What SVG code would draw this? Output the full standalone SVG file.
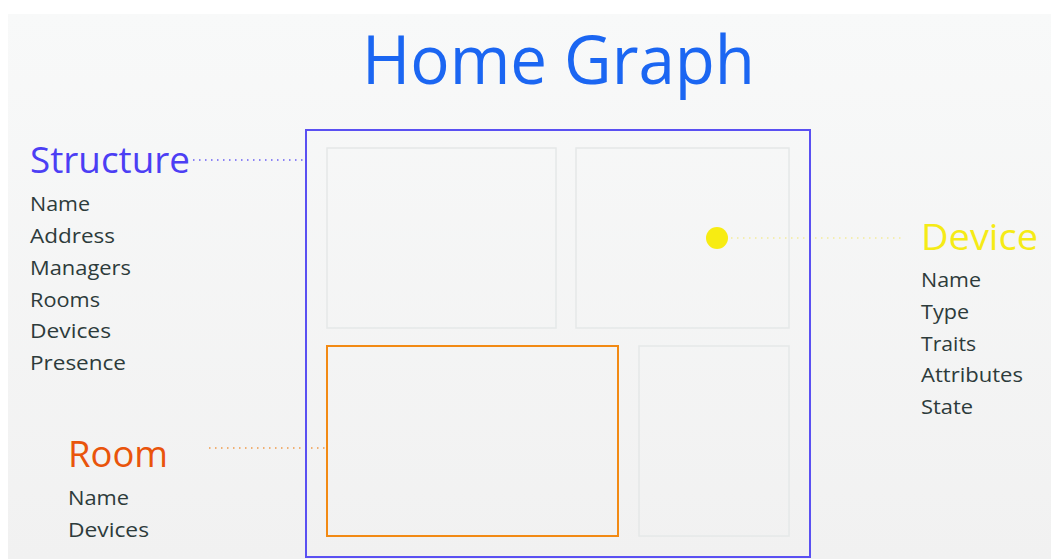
<svg xmlns="http://www.w3.org/2000/svg" width="1051" height="559" viewBox="0 0 1051 559">
<defs>
<linearGradient id="bg" x1="0" y1="0" x2="0" y2="1">
<stop offset="0" stop-color="#f8f9f9"/>
<stop offset="1" stop-color="#f1f1f1"/>
</linearGradient>
<style>
.t{font-family:"Open Sans","Noto Sans",sans-serif}
.item{font-family:"Open Sans","Noto Sans",sans-serif;font-size:20px;fill:#2d3b3b}
.room{fill:none;stroke:#e5e8e8;stroke-width:1.5}
.dot{stroke-width:1.5;stroke-dasharray:1.5 4.5;fill:none}
</style>
</defs>
<rect width="1051" height="559" fill="#ffffff"/>
<rect x="8" y="14" width="1043" height="545" fill="url(#bg)"/>
<text class="t" x="362" y="84" font-size="67" fill="#1b66f2" textLength="393" lengthAdjust="spacingAndGlyphs">Home Graph</text>
<g id="connectors">
<line class="dot" x1="193" y1="160" x2="305" y2="160" stroke="#6a5ff5"/>
<line class="dot" x1="731" y1="238" x2="905" y2="238" stroke="#f3ec9a"/>
<line class="dot" x1="209" y1="448" x2="326" y2="448" stroke="#f09a4a"/>
</g>
<g id="home">
<rect x="306" y="130" width="504" height="427" fill="none" stroke="#5a50f2" stroke-width="2"/>
</g>
<g id="room-tl"><rect class="room" x="327" y="148" width="229" height="180"/></g>
<g id="room-tr"><rect class="room" x="576" y="148" width="213" height="180"/></g>
<g id="room-bl"><rect x="327" y="346" width="291" height="190" fill="none" stroke="#f28a14" stroke-width="2"/></g>
<g id="room-br"><rect class="room" x="639" y="346" width="150" height="190"/></g>
<g id="device-dot"><circle cx="717" cy="238" r="11" fill="#f7ec12"/></g>
<g id="structure">
<text class="t" x="30" y="173" font-size="36" fill="#4c3ef4" textLength="160" lengthAdjust="spacingAndGlyphs">Structure</text>
<text class="item" x="30" y="211" textLength="60" lengthAdjust="spacingAndGlyphs">Name</text>
<text class="item" x="30" y="243" textLength="85" lengthAdjust="spacingAndGlyphs">Address</text>
<text class="item" x="30" y="275" textLength="101" lengthAdjust="spacingAndGlyphs">Managers</text>
<text class="item" x="30" y="307" textLength="70" lengthAdjust="spacingAndGlyphs">Rooms</text>
<text class="item" x="30" y="338" textLength="81" lengthAdjust="spacingAndGlyphs">Devices</text>
<text class="item" x="30" y="370" textLength="96" lengthAdjust="spacingAndGlyphs">Presence</text>
</g>
<g id="device">
<text class="t" x="921" y="250" font-size="36" fill="#f5eb16" textLength="117" lengthAdjust="spacingAndGlyphs">Device</text>
<text class="item" x="921" y="287" textLength="60" lengthAdjust="spacingAndGlyphs">Name</text>
<text class="item" x="921" y="319" textLength="48" lengthAdjust="spacingAndGlyphs">Type</text>
<text class="item" x="921" y="351" textLength="55" lengthAdjust="spacingAndGlyphs">Traits</text>
<text class="item" x="921" y="382" textLength="102" lengthAdjust="spacingAndGlyphs">Attributes</text>
<text class="item" x="921" y="414" textLength="52" lengthAdjust="spacingAndGlyphs">State</text>
</g>
<g id="room">
<text class="t" x="68" y="467" font-size="36" fill="#e9540b" textLength="100" lengthAdjust="spacingAndGlyphs">Room</text>
<text class="item" x="68" y="505" textLength="61" lengthAdjust="spacingAndGlyphs">Name</text>
<text class="item" x="68" y="537" textLength="81" lengthAdjust="spacingAndGlyphs">Devices</text>
</g>
</svg>
